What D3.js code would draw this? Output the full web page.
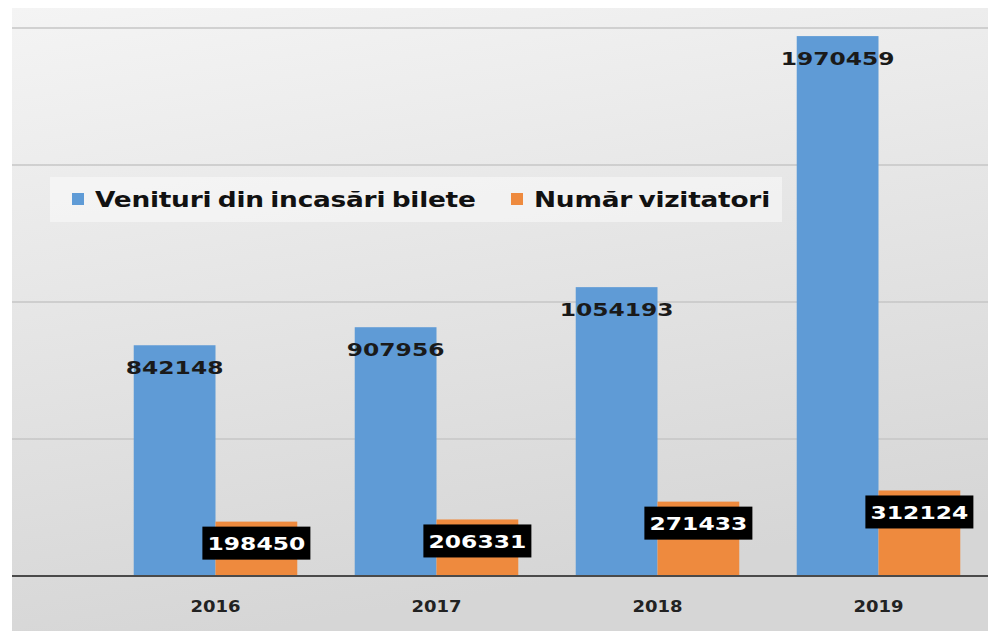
<!DOCTYPE html>
<html>
<head>
<meta charset="utf-8">
<script src="https://cdn.jsdelivr.net/npm/d3@7"></script>
<style>
  body { margin: 0; background: #fff; }
  svg { display: block; }
</style>
</head>
<body>
<svg id="chart"></svg>
<script>
const years = ['2016', '2017', '2018', '2019'];
const venituri = [842148, 907956, 1054193, 1970459];
const vizitatori = [198450, 206331, 271433, 312124];
const seriesNames = ['Venituri din incasări bilete', 'Număr vizitatori'];
const seriesColors = ['#5f9bd6', '#ee8a3e'];
const gridTicks = [0, 500000, 1000000, 1500000, 2000000];

const width = 988, height = 631;
const svg = d3.select('#chart').attr('width', width).attr('height', height);

const defs = svg.append('defs');
const grad = defs.append('linearGradient').attr('id', 'bg')
    .attr('x1', 0).attr('y1', 0).attr('x2', 0.25).attr('y2', 1);
grad.append('stop').attr('offset', '0%').attr('stop-color', '#f4f4f4');
grad.append('stop').attr('offset', '100%').attr('stop-color', '#d6d6d6');

svg.append('rect')
    .attr('x', 12).attr('y', 8)
    .attr('width', width - 12).attr('height', height - 8)
    .attr('fill', 'url(#bg)');

const x = d3.scaleBand().domain(years).range([105, 989])
    .paddingInner(0.26).paddingOuter(0.13);
const xSub = d3.scaleBand().domain([0, 1]).range([0, x.bandwidth()]);
const y = d3.scaleLinear().domain([0, 2000000]).range([576, 28]);

// gridlines
svg.append('g').selectAll('line').data(gridTicks.slice(1)).enter().append('line')
    .attr('x1', 12).attr('x2', width)
    .attr('y1', d => y(d)).attr('y2', d => y(d))
    .attr('stroke', '#c6c6c6').attr('stroke-width', 1.5);

const rows = years.map((yr, i) => ({ year: yr, values: [venituri[i], vizitatori[i]] }));

const groups = svg.append('g').selectAll('g').data(rows).enter().append('g')
    .attr('transform', d => `translate(${x(d.year)},0)`);

groups.selectAll('rect').data(d => d.values).enter().append('rect')
    .attr('x', (d, i) => xSub(i))
    .attr('width', xSub.bandwidth())
    .attr('y', d => y(d))
    .attr('height', d => y(0) - y(d))
    .attr('fill', (d, i) => seriesColors[i]);

// baseline
svg.append('line')
    .attr('x1', 12).attr('x2', width)
    .attr('y1', y(0)).attr('y2', y(0))
    .attr('stroke', '#4a4a4a').attr('stroke-width', 2);

// value labels
const fontFam = '"DejaVu Sans", Verdana, sans-serif';
groups.each(function (d) {
  const g = d3.select(this);
  d.values.forEach((v, i) => {
    const cx = xSub(i) + xSub.bandwidth() / 2;
    const cy = y(v) + 22;
    const lab = g.append('g').attr('transform', `translate(${cx},${cy})`);
    if (i === 1) {
      lab.append('rect')
          .attr('x', -54).attr('y', -17)
          .attr('width', 108).attr('height', 33)
          .attr('fill', '#000');
    }
    lab.append('text')
        .attr('transform', 'scale(1.3,1)')
        .attr('text-anchor', 'middle')
        .attr('dy', '0.36em')
        .attr('font-family', fontFam)
        .attr('font-weight', 'bold')
        .attr('font-size', 18)
        .attr('fill', i === 1 ? '#fff' : '#1a1a1a')
        .text(v);
  });
});

// category labels
svg.append('g').selectAll('text').data(years).enter().append('text')
    .attr('transform', d => `translate(${x(d) + x.bandwidth() / 2},607) scale(1.2,1)`)
    .attr('text-anchor', 'middle')
    .attr('dy', '0.36em')
    .attr('font-family', fontFam)
    .attr('font-weight', 'bold')
    .attr('font-size', 15)
    .attr('fill', '#222')
    .text(d => d);

// legend
const legend = svg.append('g');
legend.append('rect')
    .attr('x', 50).attr('y', 177)
    .attr('width', 732).attr('height', 45)
    .attr('fill', '#fff').attr('opacity', 0.45);
const legendX = [72, 511];
seriesNames.forEach((name, i) => {
  legend.append('rect')
      .attr('x', legendX[i]).attr('y', 193)
      .attr('width', 12).attr('height', 12)
      .attr('fill', seriesColors[i]);
  legend.append('text')
      .attr('transform', `translate(${legendX[i] + 23},199) scale(1.2,1)`)
      .attr('dy', '0.36em')
      .attr('font-family', fontFam)
      .attr('font-weight', 'bold')
      .attr('font-size', 22)
      .attr('letter-spacing', -0.2)
      .attr('word-spacing', -2)
      .attr('fill', '#111')
      .text(name);
});
</script>
</body>
</html>
